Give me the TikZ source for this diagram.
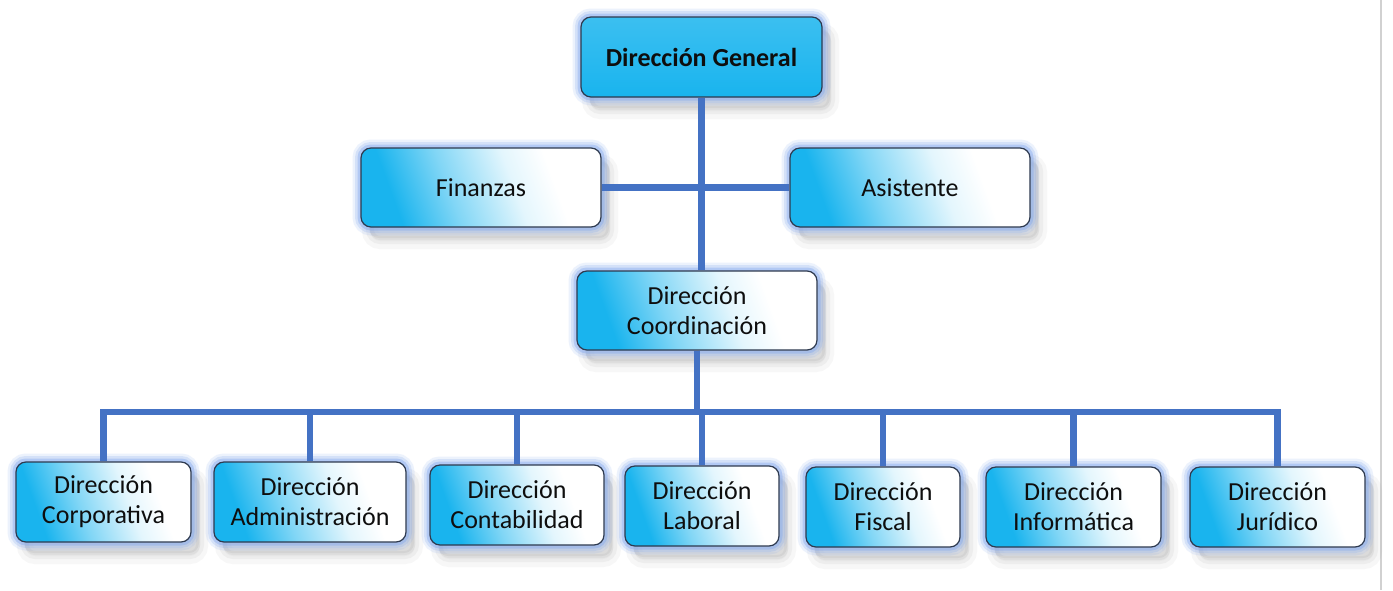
\documentclass[tikz,border=0pt]{standalone}
\usepackage{fontspec}
\setmainfont{Carlito}
\usetikzlibrary{calc}
\definecolor{boxcyan}{HTML}{19B4EE}
\definecolor{linkblue}{HTML}{4472C4}
\definecolor{glowblue}{HTML}{7FA6EE}
\definecolor{edgedark}{HTML}{2E3A4F}
\definecolor{txtdark}{HTML}{0E0E0E}
\pgfdeclareverticalshading{orgshade}{100bp}{color(0bp)=(boxcyan); color(28bp)=(boxcyan); color(42bp)=(boxcyan!55!white); color(58bp)=(boxcyan!12!white); color(68bp)=(white); color(100bp)=(white)}
\tikzset{
  orgbox/.style={rounded corners=10pt, align=center, text=txtdark,
    font=\fontsize{26}{30}\selectfont, inner sep=0pt,
    preaction={fill=black!55, draw=black!55, line width=16pt, opacity=0.05, transform canvas={shift={(9pt,-14pt)}}},
    preaction={fill=black!55, draw=black!55, line width=8pt, opacity=0.07, transform canvas={shift={(9pt,-13pt)}}},
    preaction={fill=black!55, opacity=0.10, transform canvas={shift={(8pt,-11pt)}}},
    preaction={draw=glowblue, line width=17pt, opacity=0.14},
    preaction={draw=glowblue, line width=12pt, opacity=0.22},
    preaction={draw=glowblue, line width=7pt, opacity=0.40},
    draw=edgedark, line width=1.2pt, shading=orgshade, shading angle=-70},
  topbox/.style={orgbox, shading=axis, top color=boxcyan!85!white, bottom color=boxcyan, shading angle=0},
  link/.style={draw=linkblue, line width=6.5pt}
}
\begin{document}
\begin{tikzpicture}[x=1pt, y=-1pt]
\useasboundingbox (0,0) rectangle (1393,590);
\fill[white] (0,0) rectangle (1393,590);
\draw[black!18, line width=1.5pt] (1381,0) -- (1381,590);

\node[topbox, minimum width=241pt, minimum height=80pt] (dg) at (701.5,57) {\textbf{Dirección General}};
\node[orgbox, minimum width=240pt, minimum height=79pt] (fin) at (481,187.5) {Finanzas};
\node[orgbox, minimum width=240pt, minimum height=79pt] (asi) at (910,187.5) {Asistente};
\node[orgbox, minimum width=240pt, minimum height=79pt] (coo) at (697,310.5) {Dirección\\Coordinación};

\node[orgbox, minimum width=175pt, minimum height=80pt] (c1) at (103.5,502) {Dirección\\Corporativa};
\node[orgbox, minimum width=192pt, minimum height=80pt] (c2) at (310,502) {Dirección\\Administración};
\node[orgbox, minimum width=174pt, minimum height=80pt] (c3) at (517,505) {Dirección\\Contabilidad};
\node[orgbox, minimum width=154pt, minimum height=80pt] (c4) at (702,506) {Dirección\\Laboral};
\node[orgbox, minimum width=154pt, minimum height=80pt] (c5) at (883,507) {Dirección\\Fiscal};
\node[orgbox, minimum width=175pt, minimum height=80pt] (c6) at (1073.5,507) {Dirección\\Informática};
\node[orgbox, minimum width=175pt, minimum height=80pt] (c7) at (1277.5,507) {Dirección\\Jurídico};

\coordinate (bus) at (701,412);
\path[link] (dg.south) -- (dg.south |- coo.north);
\path[link] (fin.east) -- (asi.west);
\foreach \c in {c1,c2,c3,c4,c5,c6,c7}{
  \path[link] (coo.south) -- (coo.south |- bus) -| (\c.north);
}
\end{tikzpicture}
\end{document}
